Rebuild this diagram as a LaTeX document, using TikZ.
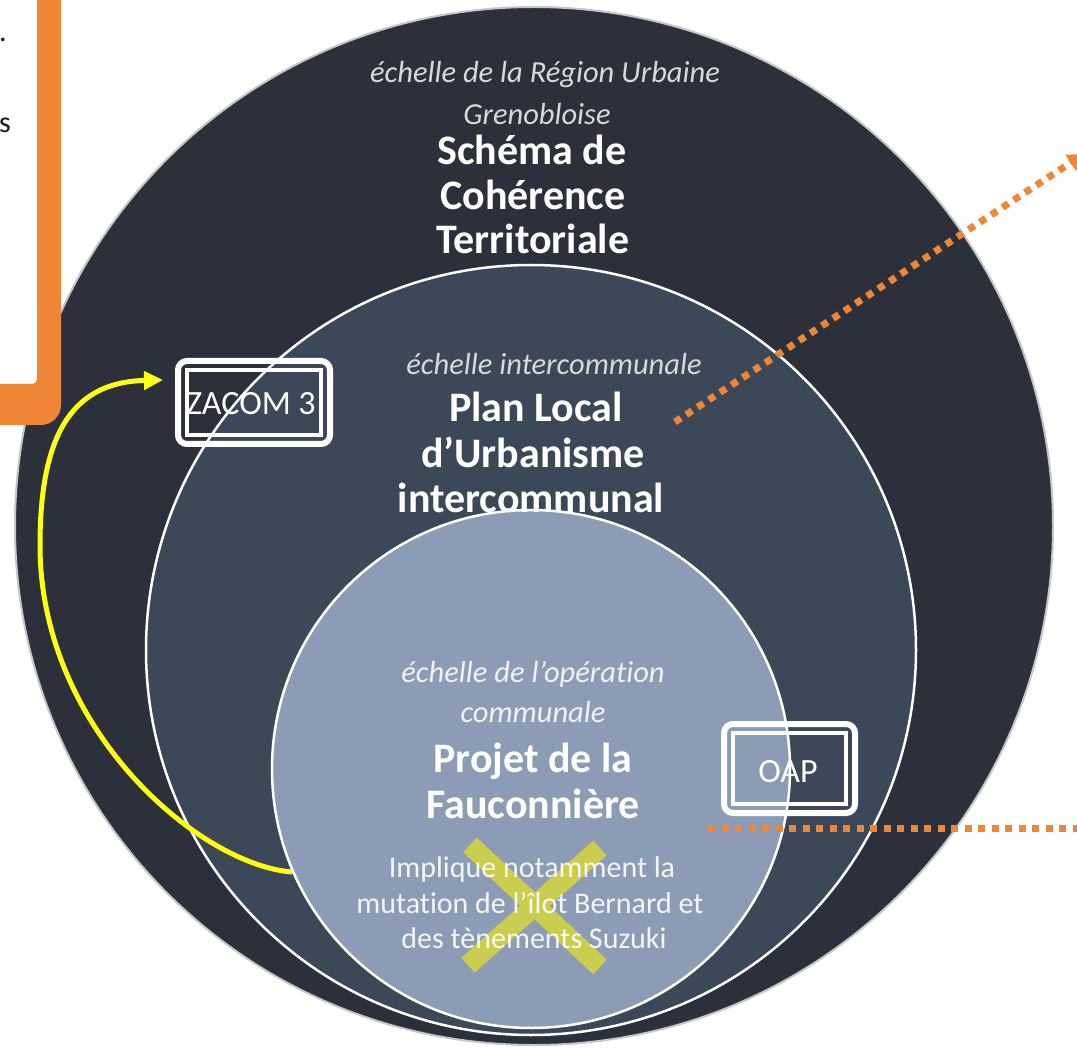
\documentclass[tikz,border=0pt]{standalone}
\usepackage{fontspec}
\setmainfont{Carlito}[Ligatures=NoCommon]
\usetikzlibrary{arrows.meta}
\definecolor{outerC}{HTML}{2B303B}
\definecolor{midC}{HTML}{3C4757}
\definecolor{innerC}{HTML}{8C9CB4}
\definecolor{orangeC}{HTML}{EE8636}
\definecolor{italC}{HTML}{D9D9D9}
\definecolor{italL}{HTML}{F2F2F2}
\definecolor{xC}{HTML}{CACD4E}
\definecolor{yelC}{HTML}{FFFF10}
\begin{document}
\begin{tikzpicture}[x=1pt,y=-1pt,
  ital/.style={font=\fontsize{30.5}{36}\selectfont\itshape, text=italC, inner sep=0pt, anchor=base},
  boldt/.style={font=\fontsize{42}{48}\selectfont\bfseries, text=white, inner sep=0pt, anchor=base},
  regt/.style={font=\fontsize{30}{36}\selectfont, text=white, text opacity=0.9, inner sep=0pt, anchor=base},
  boxt/.style={font=\fontsize{34}{40}\selectfont, text=white, inner sep=0pt, anchor=base},
  boxo/.style={draw=white, line width=6pt, rounded corners=9pt, inner sep=0pt},
  boxi/.style={draw=white, line width=4pt},
  dots/.style={draw=orangeC, line width=7pt, dash pattern=on 7pt off 6.5pt},
  yarrow/.style={draw=yelC, line width=5pt, -{Triangle[length=19pt,width=18pt]}},
]
\useasboundingbox (0,0) rectangle (1077,1048);
\clip (0,0) rectangle (1077,1048);
\fill[white] (0,0) rectangle (1077,1048);

% circles
\draw[fill=outerC, draw=gray!45, line width=2pt] (534,526) circle [radius=519pt];
\draw[fill=midC, draw=white, line width=2.5pt] (531,650) circle [radius=385pt];
\draw[fill=innerC, draw=white, line width=2.5pt] (531,769) circle [radius=259pt];

% boxes
\node[boxo, minimum width=152pt, minimum height=83pt] (zacom) at (254,402.5) {};
\draw[boxi] ([xshift=12pt,yshift=-12pt]zacom.north west) rectangle ([xshift=-12pt,yshift=12pt]zacom.south east);
\node[boxt] (zacomT) at (251,415) {ZACOM 3};

\node[boxo, minimum width=131pt, minimum height=89pt] (oap) at (789.5,768.5) {};
\draw[boxi] ([xshift=12pt,yshift=-12pt]oap.north west) rectangle ([xshift=-12pt,yshift=12pt]oap.south east);
\node[boxt] (oapT) at (788,782) {OAP};

% X mark
\draw[xC, line width=20pt] (470,845) -- (600,967);
\draw[xC, line width=20pt] (600,848) -- (468,965);

% block 1
\node[ital] (s1a) at (545,83) {échelle de la Région Urbaine};
\node[ital] (s1b) at (537,125) {Grenobloise};
\node[boldt] (s1c) at (532,165) {Schéma de};
\node[boldt] (s1d) at (533,210) {Cohérence};
\node[boldt] (s1e) at (533,254) {Territoriale};

% block 2
\node[ital] (s2a) at (554,375) {échelle intercommunale};
\node[boldt] (s2b) at (536,422) {Plan Local};
\node[boldt] (s2c) at (533,468) {d’Urbanisme};
\node[boldt] (s2d) at (531,513) {intercommunal};

% block 3
\node[ital, text=italL] (s3a) at (533,682) {échelle de l’opération};
\node[ital, text=italL] (s3b) at (533,722) {communale};
\node[boldt] (s3c) at (533,772) {Projet de la};
\node[boldt] (s3d) at (533,818) {Fauconnière};
\node[regt] (s3e) at (532,877) {Implique notamment la};
\node[regt] (s3f) at (530,913) {mutation de l’îlot Bernard et};
\node[regt] (s3g) at (534,948) {des tènements Suzuki};

% yellow arrow
\coordinate (yS) at (292,872);
\coordinate (yE) at (163,380);
\draw[yarrow] (yS) .. controls (200,865) and (40,730) .. (40,545) .. controls (40,430) and (75,382) .. (yE);

% orange dotted connectors
\coordinate (pluP) at (675,422);
\coordinate (outR) at (1084,154);
\draw[dots, -{Triangle[length=16pt,width=18pt]}] (pluP) -- (outR);
\coordinate (fauP) at (708,828);
\coordinate (outH) at (1090,828);
\draw[dots] (fauP) -- (outH);

% orange frame (cut off)
\fill[white] (-5,-5) rectangle (37,384);
\fill[orangeC] (37,-10) -- (61,-10) -- (61,405) .. controls (61,416) and (52,425) .. (41,425) -- (-10,425) -- (-10,384) -- (32,384) .. controls (35,384) and (37,382) .. (37,379) -- cycle;
\node[regt, text=black!90, text opacity=1, anchor=base west] (bx1) at (-1,42) {.};
\node[regt, text=black!90, text opacity=1, anchor=base west] (bx2) at (-1,133) {s};
\end{tikzpicture}
\end{document}
